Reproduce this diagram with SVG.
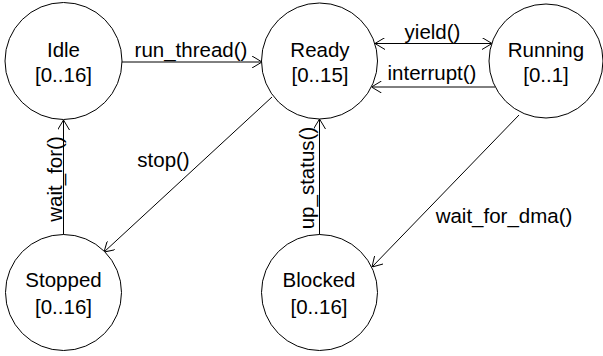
<svg xmlns="http://www.w3.org/2000/svg" width="603" height="356" viewBox="0 0 603 356">
<style>
.node{fill:#fff;stroke:#000;stroke-width:1}
.t{font-family:"Liberation Sans",Arial,sans-serif;font-size:20.5px;fill:#000;text-anchor:middle}
.e{fill:none;stroke:#000;stroke-width:1}
</style>
<defs>
<marker id="ah" viewBox="0 0 10 12" refX="10" refY="6" markerWidth="10" markerHeight="12" markerUnits="userSpaceOnUse" orient="auto-start-reverse">
<path d="M0,0 L10,6 L0,12" fill="none" stroke="#000" stroke-width="1"/>
</marker>
</defs>
<rect width="603" height="356" fill="#fff"/>
<g id="connectors">
<path class="e" d="M122,62 L262,62" marker-end="url(#ah)"/>
<path class="e" d="M375,43.5 L492,43.5" marker-start="url(#ah)" marker-end="url(#ah)"/>
<path class="e" d="M495,87 L371.5,87" marker-end="url(#ah)"/>
<path class="e" d="M272,97 L104,252" marker-end="url(#ah)"/>
<path class="e" d="M63.5,235 L63.5,120" marker-end="url(#ah)"/>
<path class="e" d="M319.5,235 L319.5,119" marker-end="url(#ah)"/>
<path class="e" d="M519,115 L372,267" marker-end="url(#ah)"/>
<text class="t" x="191" y="57">run_thread()</text>
<text class="t" x="432.5" y="39">yield()</text>
<text class="t" x="432" y="80">interrupt()</text>
<text class="t" x="163.5" y="167">stop()</text>
<text class="t" x="504" y="223">wait_for_dma()</text>
<text class="t" transform="translate(61.5,179) rotate(-90)">wait_for()</text>
<text class="t" transform="translate(313.5,178) rotate(-90)">up_status()</text>
</g>
<g id="idle">
<circle class="node" cx="63.5" cy="61" r="58.5"/>
<text class="t" x="63.5" y="57">Idle</text>
<text class="t" x="63.5" y="82">[0..16]</text>
</g>
<g id="ready">
<circle class="node" cx="319.5" cy="61" r="58"/>
<text class="t" x="320" y="56.5">Ready</text>
<text class="t" x="320" y="82">[0..15]</text>
</g>
<g id="running">
<circle class="node" cx="546" cy="61" r="57"/>
<text class="t" x="546" y="56.5">Running</text>
<text class="t" x="546" y="82">[0..1]</text>
</g>
<g id="stopped">
<circle class="node" cx="63.5" cy="292.5" r="58"/>
<text class="t" x="63.5" y="286.5">Stopped</text>
<text class="t" x="63.5" y="313.5">[0..16]</text>
</g>
<g id="blocked">
<circle class="node" cx="319.5" cy="292.5" r="58"/>
<text class="t" x="319" y="286.5">Blocked</text>
<text class="t" x="319" y="313.5">[0..16]</text>
</g>
</svg>
